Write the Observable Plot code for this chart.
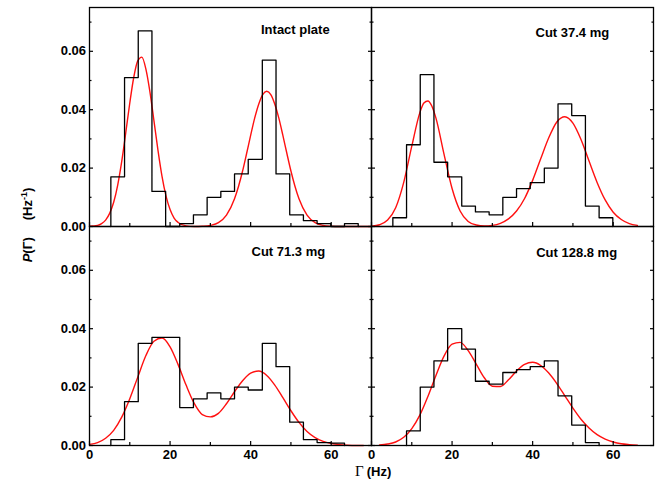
<!DOCTYPE html>
<html><head><meta charset="utf-8">
<script src="https://cdn.jsdelivr.net/npm/d3@7"></script>
<script src="https://cdn.jsdelivr.net/npm/@observablehq/plot@0.6"></script>
<style>
body{margin:0;background:#fff}
svg{font-family:"Liberation Sans",Arial,sans-serif}
</style>
</head><body><div id="chart"></div>
<script>
// ---- data ----
const panelTitles = ["Intact plate", "Cut 37.4 mg", "Cut 71.3 mg", "Cut 128.8 mg"];
const panelCol = [0, 1, 0, 1];
const panelRow = [0, 0, 1, 1];

const edges1 = [5.3, 8.7, 12.1, 15.5, 18.9, 22.4, 25.8, 29.2, 32.6, 36.0, 39.4, 42.9, 46.3, 49.7, 53.1, 56.5, 59.9, 63.3, 66.7];
const hist1  = [0.017, 0.051, 0.067, 0.012, 0, 0.001, 0.004, 0.010, 0.012, 0.018, 0.023, 0.057, 0.018, 0.004, 0.002, 0.001, 0, 0.001];
const edges2 = [5.3, 8.7, 12.1, 15.5, 18.9, 22.4, 25.8, 29.2, 32.6, 36.0, 39.4, 42.9, 46.3, 49.7, 53.1, 56.5, 59.9];
const hist2  = [0.003, 0.028, 0.052, 0.022, 0.017, 0.007, 0.005, 0.004, 0.010, 0.013, 0.015, 0.020, 0.042, 0.038, 0.007, 0.003];
const edges3 = [5.3, 8.7, 12.1, 15.5, 18.9, 22.4, 25.8, 29.2, 32.6, 36.0, 39.4, 42.9, 46.3, 49.7, 53.1, 56.5, 59.9, 63.3];
const hist3  = [0.002, 0.015, 0.035, 0.037, 0.037, 0.013, 0.016, 0.018, 0.016, 0.020, 0.019, 0.035, 0.027, 0.008, 0.002, 0.001, 0.0008];
const edges4 = [8.7, 12.1, 15.5, 18.9, 22.4, 25.8, 29.2, 32.6, 36.0, 39.4, 42.9, 46.3, 49.7, 53.1, 56.5];
const hist4  = [0.005, 0.020, 0.029, 0.040, 0.033, 0.022, 0.021, 0.025, 0.026, 0.027, 0.029, 0.017, 0.007, 0.001];

const fitX1 = [0,2,3,4,5,6,7,8,9,10,11,12,13,14,15,16,17,18,19,20,21,22,24,26,28,30,32,34,36,37,38,39,40,41,42,43,44,45,46,47,48,49,50,51,52,54,56,58,60,62,66,70];
const fitY1 = [0.0001,0.0004,0.0010,0.0022,0.0045,0.0083,0.0142,0.0223,0.0321,0.0423,0.0512,0.0568,0.0580,0.0539,0.0461,0.0362,0.0261,0.0172,0.0104,0.0058,0.0029,0.0014,0.0002,0.0000,0.0001,0.0004,0.0013,0.0039,0.0095,0.0138,0.0190,0.0250,0.0312,0.0371,0.0419,0.0452,0.0463,0.0452,0.0419,0.0371,0.0312,0.0250,0.0190,0.0138,0.0095,0.0039,0.0013,0.0004,0.0001,0,0,0];
const fitX2 = [0,2,4,6,8,10,12,13,14,15,16,18,20,22,24,26,28,30,32,34,36,38,40,42,44,46,48,50,52,54,56,58,60,62,64,66];
const fitY2 = [0.0001,0.0006,0.0022,0.0064,0.0151,0.0275,0.0390,0.0423,0.0430,0.0412,0.0371,0.0248,0.0130,0.0053,0.0017,0.0005,0.0002,0.0004,0.0011,0.0026,0.0053,0.0096,0.0158,0.0232,0.0304,0.0358,0.0376,0.0354,0.0298,0.0224,0.0151,0.0091,0.0049,0.0024,0.0010,0.0004];
const fitX3 = [0,2,4,6,8,10,12,14,16,18,20,22,24,26,28,30,32,34,36,38,40,42,44,46,48,50,52,54,56,58,60,62,64,66,68];
const fitY3 = [0.0004,0.0010,0.0025,0.0052,0.0097,0.0160,0.0235,0.0308,0.0357,0.0368,0.0338,0.0277,0.0206,0.0144,0.0106,0.0098,0.0110,0.0143,0.0184,0.0222,0.0248,0.0255,0.0240,0.0207,0.0164,0.0119,0.0079,0.0048,0.0027,0.0014,0.0007,0.0003,0.0001,0.0000,0.0000];
const fitX4 = [2,4,6,8,10,12,14,16,18,20,22,24,26,28,30,32,34,36,38,40,42,44,46,48,50,52,54,56,58,60,62,64,66];
const fitY4 = [0.0002,0.0005,0.0012,0.0028,0.0058,0.0104,0.0168,0.0240,0.0306,0.0347,0.0353,0.0325,0.0279,0.0232,0.0203,0.0202,0.0225,0.0255,0.0278,0.0285,0.0274,0.0248,0.0212,0.0170,0.0128,0.0090,0.0060,0.0037,0.0022,0.0012,0.0006,0.0003,0.0001];

const xTickLabels = [0, 20, 40, 60];
const xMinorTicks = [10, 30, 50];
const yTickLabels = [0, 0.02, 0.04, 0.06];
const yMinorTicks = [0.01, 0.03, 0.05, 0.07];

// ---- tables ----
const allEdges = [edges1, edges2, edges3, edges4];
const allHist = [hist1, hist2, hist3, hist4];
const allFitX = [fitX1, fitX2, fitX3, fitX4];
const allFitY = [fitY1, fitY2, fitY3, fitY4];

const histRows = [];
allEdges.forEach((e, p) => {
  const v = allHist[p];
  histRows.push({p, x: e[0], y: 0});
  v.forEach((val, i) => histRows.push({p, x: e[i], y: val}));
  histRows.push({p, x: e[e.length - 1], y: 0});
});
const fitRows = [];
allFitX.forEach((xs, p) => xs.forEach((x, i) => fitRows.push({p, x, y: allFitY[p][i]})));

const fxOf = d => panelCol[d.p];
const fyOf = d => panelRow[d.p];

// layout offsets of panel titles (px from panel top-left)
const titleDx = [171.5, 164, 162, 164.7];
const titleDy = [17.5, 20.2, 20, 21.7];

const font = "Liberation Sans, Arial, sans-serif";
const titleMarks = panelTitles.map((t, p) => Plot.text([{p, t}], {
  fx: fxOf, fy: fyOf, text: "t", frameAnchor: "top-left", textAnchor: "start",
  lineAnchor: "top", dx: titleDx[p], dy: titleDy[p],
  fontSize: 13, fontWeight: "bold", fill: "black", fontFamily: font
}));

const chart = Plot.plot({
  width: 660, height: 484,
  marginLeft: 88.5, marginRight: 7, marginTop: 6.5, marginBottom: 39,
  style: {fontFamily: font, background: "white"},
  fx: {axis: null, padding: 0},
  fy: {axis: null, padding: 0},
  x: {domain: [0, 70]},
  y: {domain: [0, 0.075]},
  marks: [
    Plot.line(fitRows, {x: "x", y: "y", z: "p", fx: fxOf, fy: fyOf, curve: "monotone-x", stroke: "#ff1010", strokeWidth: 1.4}),
    Plot.line(histRows, {x: "x", y: "y", z: "p", fx: fxOf, fy: fyOf, curve: "step-after", stroke: "black", strokeWidth: 1.3}),
    // inward tick marks on all panels
    Plot.axisY({ticks: yTickLabels, tickSize: -4, tickFormat: () => "", label: null, anchor: "left", facetAnchor: null, strokeWidth: 1.2}),
    Plot.axisY({ticks: yMinorTicks, tickSize: -2.5, tickFormat: () => "", label: null, anchor: "left", facetAnchor: null, strokeWidth: 1.2}),
    Plot.axisY({ticks: yTickLabels, tickSize: -4, tickFormat: () => "", label: null, anchor: "right", facetAnchor: null, strokeWidth: 1.2}),
    Plot.axisY({ticks: yMinorTicks, tickSize: -2.5, tickFormat: () => "", label: null, anchor: "right", facetAnchor: null, strokeWidth: 1.2}),
    Plot.axisX({ticks: xTickLabels, tickSize: -4, tickFormat: () => "", label: null, anchor: "bottom", facetAnchor: null, strokeWidth: 1.2}),
    Plot.axisX({ticks: xMinorTicks, tickSize: -3, tickFormat: () => "", label: null, anchor: "bottom", facetAnchor: null, strokeWidth: 1.2}),
    // tick labels
    Plot.axisY({ticks: yTickLabels, tickFormat: ".2f", tickSize: 0, tickPadding: 3.5, label: null, fontSize: 13, fontWeight: "bold"}),
    Plot.axisX({ticks: xTickLabels, tickSize: 0, tickPadding: 4, label: null, fontSize: 13, fontWeight: "bold"}),
    Plot.frame({stroke: "black", strokeWidth: 1.3}),
    ...titleMarks
  ]
});
document.getElementById("chart").appendChild(chart);

// axis titles
const svg = d3.select(chart);
const yl = svg.append("text")
  .attr("transform", "translate(32,225) rotate(-90)")
  .attr("text-anchor", "middle")
  .attr("font-size", 13).attr("font-weight", "bold").attr("fill", "black")
  .attr("font-family", font);
yl.append("tspan").attr("font-style", "italic").text("P");
yl.append("tspan").text("(Γ)");
yl.append("tspan").attr("dx", 17).text("(Hz");
yl.append("tspan").attr("font-size", 9).attr("dy", -5).text("-1");
yl.append("tspan").attr("dy", 5).text(")");

const xl = svg.append("text")
  .attr("x", 355).attr("y", 476)
  .attr("text-anchor", "start")
  .attr("font-size", 13).attr("font-weight", "bold").attr("fill", "black")
  .attr("font-family", font);
xl.append("tspan").attr("font-family", "Liberation Serif, serif").attr("font-weight", "normal").attr("font-size", 15).text("Γ");
xl.append("tspan").attr("dx", 3).text("(Hz)");
</script>
</body></html>
